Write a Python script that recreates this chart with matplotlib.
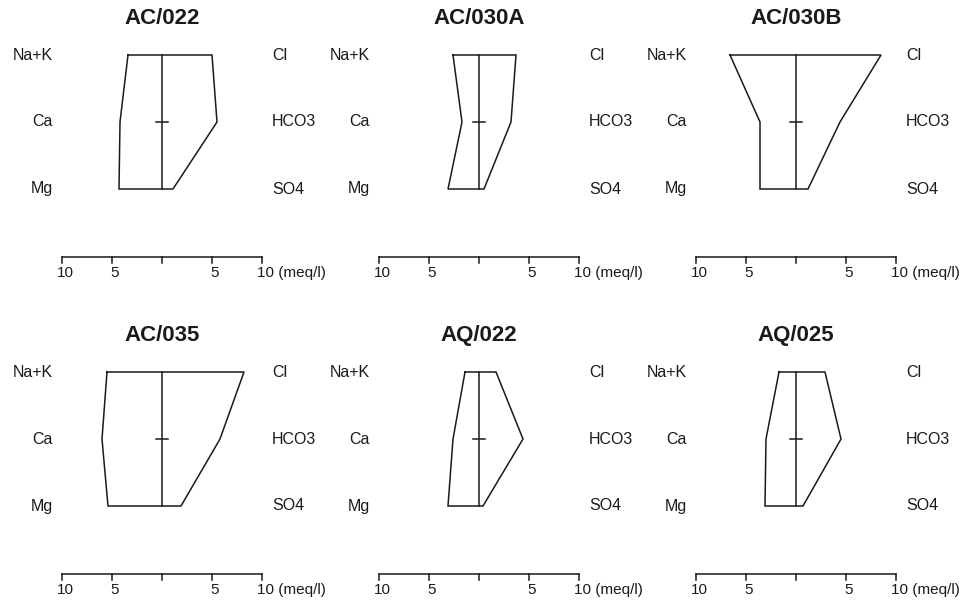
#!/usr/bin/env python3
"""Stiff diagrams for six samples (meq/l)."""

import matplotlib

matplotlib.use("Agg")
import matplotlib.pyplot as plt

plt.rcParams["font.family"] = ["Liberation Sans", "DejaVu Sans"]

# sample names, in grid order
samples = ["AC/022", "AC/030A", "AC/030B", "AC/035", "AQ/022", "AQ/025"]

# cations (left side), meq/l
na_k = [3.4, 2.6, 6.6, 5.5, 1.4, 1.7]
ca = [4.2, 1.7, 3.6, 6.0, 2.6, 3.0]
mg = [4.3, 3.1, 3.6, 5.4, 3.1, 3.1]

# anions (right side), meq/l
cl = [5.0, 3.7, 8.5, 8.2, 1.7, 2.9]
hco3 = [5.5, 3.2, 4.4, 5.8, 4.4, 4.5]
so4 = [1.1, 0.5, 1.2, 1.9, 0.4, 0.7]

cation_labels = ["Na+K", "Ca", "Mg"]
anion_labels = ["Cl", "HCO3", "SO4"]
tick_values = [-10, -5, 0, 5, 10]
tick_labels = ["10", "5", "", "5", ""]

W, H = 969, 607
fig = plt.figure(figsize=(W / 100, H / 100), dpi=100)

cell_w, cell_h, step = 317, 290, 317
center_px, px_per_meq = 162, 10.0
row0_px, row_px = 55, 67
ink = "#1a1a1a"


def to_row(py):
    return (py - row0_px) / row_px


for i, name in enumerate(samples):
    r, c = divmod(i, 3)
    x0, y0 = c * step, r * step
    ax = fig.add_axes([x0 / W, 1 - (y0 + cell_h) / H, cell_w / W, cell_h / H])
    ax.set_xlim(-center_px / px_per_meq, (cell_w - center_px) / px_per_meq)
    ax.set_ylim(to_row(cell_h), to_row(0))
    ax.axis("off")

    left = [-na_k[i], -ca[i], -mg[i]]
    right = [cl[i], hco3[i], so4[i]]
    xs = left + right[::-1] + [left[0]]
    ys = [0, 1, 2, 2, 1, 0, 0]
    ax.plot(xs, ys, color=ink, lw=1.1, solid_joinstyle="miter")
    ax.plot([0, 0], [0, 2], color=ink, lw=1.1)
    ax.plot([-0.6, 0.6], [1, 1], color=ink, lw=1.1)

    for k in range(3):
        ax.text(-10.9, k, cation_labels[k], ha="right", va="center",
                fontsize=11.5, color=ink)
        ax.text(11.0, k, anion_labels[k], ha="left", va="center",
                fontsize=11.5, color=ink)

    ax.text(0, to_row(18), name, ha="center", va="center",
            fontsize=16, fontweight="bold", color=ink)

    # scale bar
    y_axis = to_row(257)
    ax.plot([-10, 10], [y_axis, y_axis], color=ink, lw=1.1)
    for tv, tl in zip(tick_values, tick_labels):
        ax.plot([tv, tv], [y_axis, to_row(263)], color=ink, lw=1.1)
        if tl:
            ax.text(tv + 0.3, to_row(273), tl, ha="center", va="center",
                    fontsize=11, color=ink)
    ax.text(9.5, to_row(273), "10 (meq/l)", ha="left", va="center",
            fontsize=11, color=ink)

fig.savefig("out.png", dpi=100)
